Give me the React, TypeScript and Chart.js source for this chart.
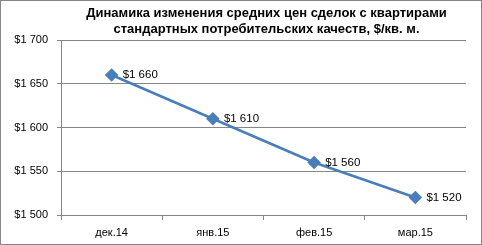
import React, { useEffect, useRef } from "react";
import { Chart, registerables } from "chart.js";
Chart.register(...registerables);

const categories = ["дек.14", "янв.15", "фев.15", "мар.15"];
const prices = [1660, 1610, 1560, 1520];
const titleLines = [
  "Динамика изменения средних цен сделок с квартирами",
  "стандартных потребительских качеств, $/кв. м.",
];
const yMin = 1500;
const yMax = 1700;
const yStep = 50;

const FONT = "'Liberation Sans', Arial, sans-serif";
const fmt = (v: number) => `$${Math.floor(v / 1000)} ${String(v % 1000).padStart(3, "0")}`;

export default function App() {
  const ref = useRef<HTMLCanvasElement>(null);
  useEffect(() => {
    document.body.style.margin = "0";
    const ctx = ref.current!;
    const decor = {
      id: "decor",
      beforeDraw(chart: any) {
        const c = chart.ctx;
        c.save();
        c.fillStyle = "#fff";
        c.fillRect(0, 0, chart.width, chart.height);
        c.strokeStyle = "#868686";
        c.lineWidth = 1;
        c.strokeRect(0.5, 0.5, chart.width - 1, chart.height - 1);
        c.restore();
      },
      afterDraw(chart: any) {
        const c = chart.ctx;
        const a = chart.chartArea;
        c.save();
        c.fillStyle = "#000";
        c.font = `bold 13px ${FONT}`;
        c.textAlign = "center";
        c.textBaseline = "middle";
        const cx = (a.left + a.right) / 2 + 3;
        c.fillText(titleLines[0], cx, 13);
        c.fillText(titleLines[1], cx, 29);
        c.restore();
      },
      afterDatasetsDraw(chart: any) {
        const c = chart.ctx;
        const meta = chart.getDatasetMeta(0);
        c.save();
        c.fillStyle = "#000";
        c.font = `11.5px ${FONT}`;
        c.textAlign = "left";
        c.textBaseline = "middle";
        meta.data.forEach((p: any, i: number) => {
          c.fillText(fmt(prices[i]), p.x + 11, p.y);
        });
        c.restore();
      },
    };
    const chart = new Chart(ctx, {
      type: "line",
      data: {
        labels: categories,
        datasets: [
          {
            data: prices,
            borderColor: "#4A7EBB",
            backgroundColor: "#4A7EBB",
            borderWidth: 2.5,
            pointStyle: "rectRot",
            pointRadius: 5,
            pointHoverRadius: 5,
            tension: 0,
          },
        ],
      },
      options: {
        responsive: false,
        animation: false,
        devicePixelRatio: 1,
        layout: { padding: { left: 1, top: 40, right: 16, bottom: 0 } },
        plugins: { legend: { display: false }, tooltip: { enabled: false }, title: { display: false } },
        scales: {
          x: {
            offset: true,
            grid: { offset: true, drawOnChartArea: false, drawTicks: true, tickLength: 5, color: "#868686" },
            border: { color: "#868686" },
            ticks: { color: "#000", font: { family: FONT, size: 11 }, padding: 6, maxRotation: 0 },
            afterFit: (s: any) => { s.height = 30; },
          },
          y: {
            min: yMin,
            max: yMax,
            grid: { color: "#868686", tickLength: 4 },
            border: { color: "#868686" },
            ticks: { stepSize: yStep, color: "#000", font: { family: FONT, size: 11 }, padding: 9, callback: (v: any) => fmt(Number(v)) },
            afterFit: (s: any) => { s.width = 60; },
          },
        },
      },
      plugins: [decor],
    } as any);
    return () => chart.destroy();
  }, []);
  return (
    <div style={{ width: 482, height: 245 }}>
      <canvas ref={ref} width={482} height={245} style={{ display: "block" }} />
    </div>
  );
}
